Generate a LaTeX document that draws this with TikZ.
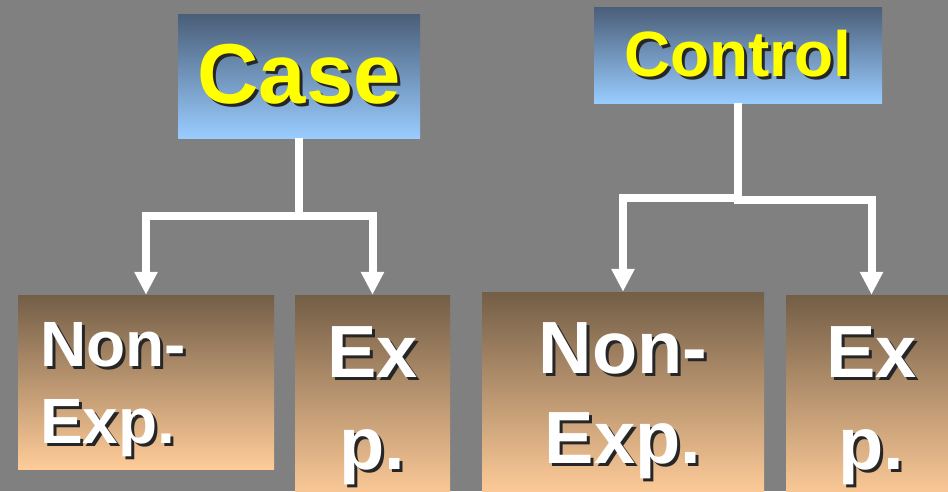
\documentclass[tikz,border=0pt]{standalone}
\usepackage{fontspec}
\setmainfont{Liberation Sans}
\usetikzlibrary{arrows.meta}
\definecolor{bg}{HTML}{808080}
\definecolor{bluetop}{HTML}{4A5E78}
\definecolor{bluebot}{HTML}{99CCFF}
\definecolor{browntop}{HTML}{735E47}
\definecolor{brownbot}{HTML}{FFCC99}
\definecolor{txtyellow}{HTML}{FFFF00}
\newcommand\shtxt[1]{\makebox[0pt][l]{\kern3pt\raisebox{-3pt}{\textcolor{black!85}{#1}}}#1}
\tikzset{
  topbox/.style={rectangle, inner sep=0pt, top color=bluetop, bottom color=bluebot, draw=none,
    text=txtyellow, font=\bfseries},
  botbox/.style={rectangle, inner sep=0pt, top color=browntop, bottom color=brownbot, draw=none},
  bottext/.style={text=white, inner sep=0pt},
  conn/.style={draw=white, line width=8pt, -{Triangle[width=22pt,length=23pt]}}
}
\begin{document}
\begin{tikzpicture}[x=1pt,y=-1pt]
\clip (0,0) rectangle (948,491);
\fill[bg] (0,0) rectangle (948,491);
% top boxes
\node[topbox, minimum width=242pt, minimum height=124pt,
  font=\bfseries\fontsize{85}{98}\selectfont] (case) at (299,76) {\shtxt{Case}};
\node[topbox, minimum width=288pt, minimum height=96pt,
  font=\bfseries\fontsize{64}{74}\selectfont] (control) at (738,55) {\shtxt{Control}};
% bottom boxes
\node[botbox, minimum width=256pt, minimum height=174pt,
  label={[bottext, anchor=west, xshift=22pt, yshift=-9pt, align=left,
    font=\bfseries\fontsize{64}{77}\selectfont]west:{\shtxt{Non-}\\\shtxt{Exp.}}}]
  (ne1) at (146,382) {};
\node[botbox, minimum width=155pt, minimum height=205pt,
  label={[bottext, yshift=-10pt, align=center,
    font=\bfseries\fontsize{74}{92}\selectfont]center:{\shtxt{Ex}\\\shtxt{p.}}}]
  (ex1) at (372.5,397.5) {};
\node[botbox, minimum width=282pt, minimum height=203pt,
  label={[bottext, yshift=-9pt, align=center,
    font=\bfseries\fontsize{74}{90}\selectfont]center:{\shtxt{Non-}\\\shtxt{Exp.}}}]
  (ne2) at (623,393.5) {};
\node[botbox, minimum width=171pt, minimum height=205pt,
  label={[bottext, yshift=-10pt, align=center,
    font=\bfseries\fontsize{74}{92}\selectfont]center:{\shtxt{Ex}\\\shtxt{p.}}}]
  (ex2) at (871.5,397.5) {};
% connectors
\draw[conn] (case.south) -- ++(0,78) -| (ne1.north);
\draw[conn] (case.south) -- ++(0,78) -| (ex1.north);
\draw[conn] (control.south) -- ++(0,95) -| (ne2.north);
\draw[conn] (control.south) -- ++(0,97) -| (ex2.north);
\end{tikzpicture}
\end{document}
